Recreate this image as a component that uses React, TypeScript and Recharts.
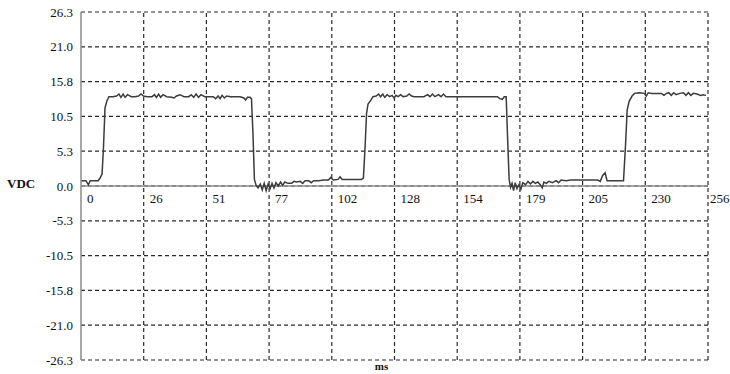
import {
  LineChart,
  Line,
  XAxis,
  YAxis,
  CartesianGrid,
  ReferenceLine,
  ReferenceDot,
} from "recharts";

// sample times (ms) and matching voltages
const timeMs = [
  0, 2, 3, 3.8, 5, 7, 7.8, 8.6, 9.2, 9.8,
  10.6, 11.4, 13, 14.5, 15.5, 16.3, 17.2, 18, 19, 20.5,
  22, 23.5, 24.5, 25.5, 27, 29, 30, 30.8, 31.7, 32.5,
  33.5, 35, 37, 38, 39, 40.5, 42, 44, 45, 46,
  47, 48, 49, 50.5, 52, 54, 55, 56, 56.8, 57.6,
  58.5, 59.5, 61, 63, 65, 66.5, 67.2, 68, 69, 69.6,
  70.2, 70.8, 71.5, 72.3, 73.2, 74, 74.8, 75.6, 76.4, 77.2,
  78, 78.8, 79.6, 80.5, 81.5, 82.3, 83.2, 84.5, 86, 87,
  88, 89.5, 90.5, 91.5, 93, 94, 95, 97, 99, 101,
  102, 103, 105, 105.8, 106.6, 109, 112, 114.5, 115.3, 116,
  116.6, 117.2, 118.2, 119.2, 120.5, 121.5, 122.3, 123.2, 124, 125,
  126, 127, 127.8, 128.6, 129.5, 130.5, 131.5, 133, 134, 135,
  136, 138, 140, 141.5, 142.5, 143.5, 144.5, 146, 147, 148,
  149, 151, 153, 157, 162, 166, 170, 171, 172, 172.8,
  173.6, 174.2, 174.8, 175.4, 176, 176.6, 177.3, 178, 178.8, 179.6,
  180.4, 181.5, 182.5, 183.5, 184.5, 185.5, 186.5, 187.5, 188.3, 189,
  190, 191, 192.5, 194, 195, 196, 198, 200, 203, 206,
  209, 211, 212, 213, 214, 214.8, 217, 220, 221.5, 222.3,
  223, 223.8, 225, 226, 228, 230, 230.8, 231.6, 233, 235,
  237, 238, 239, 240, 241, 242, 243, 244.5, 246, 247,
  248, 249, 250, 251.5, 253, 254, 255.2,
];

const volts = [
  0.8, 0.8, 0.2, 0.8, 0.8, 0.8, 1.2, 1.8, 6.0, 11.8,
  12.9, 13.5, 13.5, 13.6, 13.9, 13.4, 13.9, 13.4, 13.8, 13.5,
  13.5, 13.6, 13.9, 13.6, 13.5, 13.5, 13.8, 13.4, 13.9, 13.4,
  13.8, 13.5, 13.4, 13.3, 13.6, 13.8, 13.5, 13.5, 13.8, 13.4,
  13.9, 13.4, 13.8, 13.5, 13.5, 13.5, 13.2, 13.6, 13.2, 13.7,
  13.3, 13.6, 13.5, 13.5, 13.5, 13.3, 13.0, 13.4, 13.4, 13.2,
  8.0, 1.0, 0.1, -0.3, 0.3, -0.6, 0.4, -0.7, 0.3, -0.4,
  0.4, -0.3, 0.5, 0.0, 0.6, 0.1, 0.6, 0.4, 0.4, 0.7,
  0.6, 0.7, 0.4, 0.8, 0.8, 0.5, 0.8, 0.8, 0.9, 0.9,
  1.3, 0.9, 1.0, 1.4, 1.0, 1.0, 1.0, 1.0, 1.2, 6.0,
  11.0, 12.4, 12.9, 13.5, 13.6, 13.9, 13.5, 13.9, 13.4, 13.8,
  13.5, 13.7, 13.3, 13.7, 13.5, 13.8, 13.5, 13.6, 13.9, 13.6,
  13.5, 13.5, 13.5, 13.8, 13.5, 13.9, 13.5, 13.8, 13.5, 13.9,
  13.5, 13.5, 13.5, 13.5, 13.5, 13.5, 13.5, 13.2, 13.1, 13.5,
  13.5, 7.0, 1.0, -0.2, 0.4, -0.7, 0.5, -0.4, 0.2, -0.5,
  0.5, 0.2, 0.7, 0.3, 0.7, 0.4, 0.6, 0.2, -0.3, 0.6,
  0.4, 0.7, 0.5, 0.8, 0.5, 0.9, 0.8, 0.9, 0.9, 0.9,
  0.9, 0.9, 0.7, 1.6, 2.0, 0.8, 0.8, 0.8, 0.8, 6.0,
  11.5, 12.8, 13.6, 14.0, 14.1, 14.0, 13.6, 14.1, 14.0, 14.0,
  14.0, 13.7, 14.0, 14.1, 13.7, 14.1, 13.8, 14.0, 14.1, 13.7,
  14.1, 13.7, 14.0, 13.9, 13.7, 13.8, 13.7,
];

const xTicks = [0, 25.6, 51.2, 76.8, 102.4, 128, 153.6, 179.2, 204.8, 230.4, 256];
const yTicks = [-26.3, -21.04, -15.78, -10.52, -5.26, 0, 5.26, 10.52, 15.78, 21.04, 26.3];

const data = timeMs.map((t, i) => ({ t, v: volts[i] }));

const FONT = "'Times New Roman', 'Liberation Serif', serif";
const GRID = "#2a2a2a";
const INK = "#111";

function XTickLabel(props: any) {
  const vb = props.viewBox || {};
  const x = (vb.x ?? vb.cx ?? 0) + (vb.width ?? 0) / 2;
  const y = (vb.y ?? vb.cy ?? 0) + (vb.height ?? 0) / 2;
  // keep the last label inside the picture
  const left = props.last ? x + 2 : x + 6;
  return (
    <text x={left} y={y + 17} fontSize={13} fontFamily={FONT} fill={INK} textAnchor="start">
      {props.text}
    </text>
  );
}

function MsLabel(props: any) {
  const vb = props.viewBox || {};
  return (
    <text
      x={vb.x + vb.width / 2 - 13}
      y={vb.y + 10}
      fontSize={11}
      fontWeight="bold"
      fontFamily={FONT}
      fill={INK}
      textAnchor="middle"
    >
      ms
    </text>
  );
}

export default function App() {
  return (
    <div style={{ position: "absolute", left: 0, top: 0, background: "#fff", fontFamily: FONT }}>
      <LineChart
        width={730}
        height={374}
        data={data}
        margin={{ top: 12, right: 22, bottom: 0, left: 0 }}
      >
        <CartesianGrid vertical={false} stroke={GRID} strokeWidth={1.2} strokeDasharray="4 3" />
        <XAxis
          dataKey="t"
          type="number"
          domain={[0, 256]}
          ticks={xTicks}
          interval={0}
          tick={false}
          tickLine={false}
          axisLine={false}
          height={14}
          label={<MsLabel />}
        />
        <YAxis
          type="number"
          domain={[-26.3, 26.3]}
          ticks={yTicks}
          interval={0}
          width={81}
          tickLine={false}
          axisLine={{ stroke: "#8a8a8a", strokeWidth: 1.5 }}
          tick={{ fontSize: 13, fontFamily: FONT, fill: INK }}
          tickFormatter={(v: number) => v.toFixed(1)}
          label={{
            value: "VDC",
            position: "insideLeft",
            offset: 7,
            dy: -3,
            fontSize: 13,
            fontWeight: "bold",
            fontFamily: FONT,
            fill: INK,
          }}
        />
        {xTicks.slice(1).map((t) => (
          <ReferenceLine
            key={"g" + t}
            x={t}
            stroke={GRID}
            strokeWidth={1.2}
            strokeDasharray="4 3"
          />
        ))}
        <ReferenceLine y={0} stroke="#8a8a8a" strokeWidth={1.5} />
        {xTicks.map((t, i) => (
          <ReferenceDot
            key={t}
            x={t}
            y={0}
            r={0}
            fill="none"
            stroke="none"
            label={<XTickLabel text={String(Math.round(t))} last={i === xTicks.length - 1} />}
          />
        ))}
        <Line
          type="linear"
          dataKey="v"
          stroke="#3c3c3c"
          strokeWidth={1.5}
          dot={false}
          isAnimationActive={false}
        />
      </LineChart>
    </div>
  );
}
